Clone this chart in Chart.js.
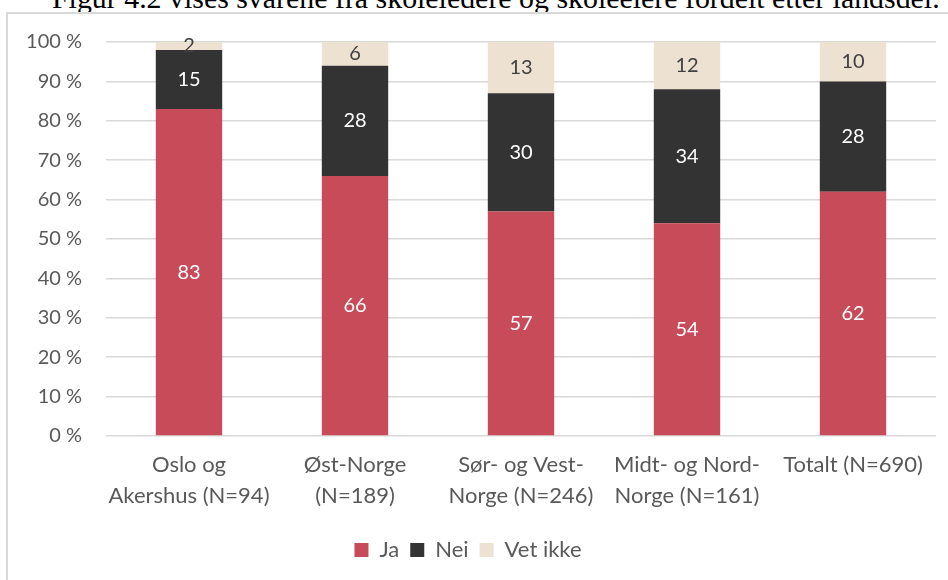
<!DOCTYPE html>
<html>
<head>
<meta charset="utf-8">
<script src="https://cdn.jsdelivr.net/npm/chart.js@4/dist/chart.umd.min.js"></script>
<style>
  html, body { margin: 0; padding: 0; background: #ffffff; width: 948px; height: 580px; overflow: hidden; position: relative; }
  #caption { position: absolute; left: 52px; top: -17px; white-space: nowrap; font-family: "Liberation Serif", "DejaVu Serif", serif; font-size: 26px; line-height: 30px; color: #000; }
  #frame { position: absolute; left: 6px; top: 12px; width: 960px; height: 600px; border: 2px solid #d9d9d9; box-sizing: border-box; }
  #wrap { position: absolute; left: 0; top: 0; width: 948px; height: 580px; }
</style>
</head>
<body>
<div id="caption">Figur 4.2 vises svarene fra skoleledere og skoleeiere fordelt etter landsdel.</div>
<div id="frame"></div>
<div id="wrap"><canvas id="c" width="948" height="580"></canvas></div>
<script>
// ---- data ----
const categories = [
  ["Oslo og", "Akershus (N=94)"],
  ["Øst-Norge", "(N=189)"],
  ["Sør- og Vest-", "Norge (N=246)"],
  ["Midt- og Nord-", "Norge (N=161)"],
  "Totalt (N=690)"
];
const seriesNames = ["Ja", "Nei", "Vet ikke"];
const jaValues = [83, 66, 57, 54, 62];
const neiValues = [15, 28, 30, 34, 28];
const vetIkkeValues = [2, 6, 13, 12, 10];
const yTickValues = [0, 10, 20, 30, 40, 50, 60, 70, 80, 90, 100];

// fit caption width
(function () {
  const cap = document.getElementById('caption');
  const target = 888;
  const w = cap.getBoundingClientRect().width;
  cap.style.fontSize = (26 * target / w).toFixed(2) + 'px';
})();

const FONT = 'Lato, "Open Sans", sans-serif';
const TXT = '#595959';

const labelPlugin = {
  id: 'barValueLabels',
  afterDatasetsDraw(chart) {
    const ctx = chart.ctx;
    ctx.save();
    ctx.font = '20px ' + FONT;
    ctx.textAlign = 'center';
    ctx.textBaseline = 'middle';
    chart.data.datasets.forEach((ds, di) => {
      const meta = chart.getDatasetMeta(di);
      meta.data.forEach((bar, i) => {
        const v = ds.data[i];
        const cy = (bar.y + bar.base) / 2;
        ctx.fillStyle = di === 2 ? '#404040' : '#ffffff';
        ctx.fillText(String(v), bar.x, cy);
      });
    });
    ctx.restore();
  }
};

new Chart(document.getElementById('c'), {
  type: 'bar',
  data: {
    labels: categories,
    datasets: [
      { label: seriesNames[0], data: jaValues, backgroundColor: '#C84B59' },
      { label: seriesNames[1], data: neiValues, backgroundColor: '#333333' },
      { label: seriesNames[2], data: vetIkkeValues, backgroundColor: '#EDE1D2' }
    ]
  },
  options: {
    responsive: false,
    animation: false,
    events: [],
    layout: { padding: { left: 0, right: 12, top: 42, bottom: 9 } },
    datasets: { bar: { barPercentage: 0.4, categoryPercentage: 1.0 } },
    scales: {
      x: {
        stacked: true,
        grid: { display: false, drawTicks: false },
        border: { display: false },
        ticks: {
          font: { family: FONT, size: 22, lineHeight: 1.38 },
          color: TXT,
          padding: 14,
          maxRotation: 0,
          autoSkip: false
        },
        afterFit(scale) { scale.height = 92; }
      },
      y: {
        stacked: true,
        min: 0,
        max: 100,
        afterBuildTicks(scale) { scale.ticks = yTickValues.map(v => ({ value: v })); },
        grid: { color: '#d9d9d9', lineWidth: 1.5, drawTicks: false },
        border: { display: false },
        ticks: {
          font: { family: FONT, size: 20 },
          color: TXT,
          padding: 24,
          callback: (v) => v + ' %'
        },
        afterFit(scale) { scale.width = 106; }
      }
    },
    plugins: {
      legend: {
        position: 'bottom',
        labels: {
          boxWidth: 14,
          boxHeight: 14,
          padding: 11,
          color: TXT,
          font: { family: FONT, size: 22 }
        }
      },
      tooltip: { enabled: false },
      title: { display: false }
    }
  },
  plugins: [labelPlugin]
});
</script>
</body>
</html>
